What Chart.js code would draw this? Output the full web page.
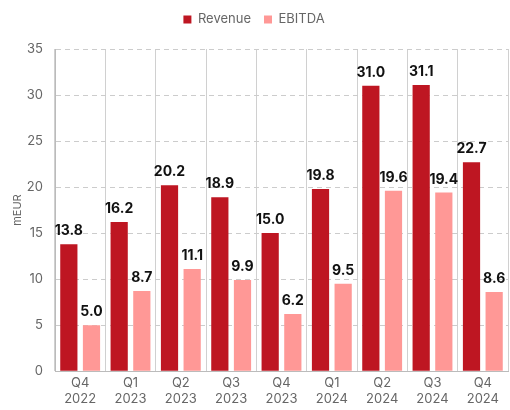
<!DOCTYPE html>
<html>
<head>
<meta charset="utf-8">
<script src="https://cdn.jsdelivr.net/npm/chart.js@4"></script>
<style>
  html, body { margin: 0; padding: 0; background: #fff; }
  #wrap { width: 510px; height: 410px; }
</style>
</head>
<body>
<div id="wrap"><canvas id="c"></canvas></div>
<script>
var quarters = [['Q4', '2022'], ['Q1', '2023'], ['Q2', '2023'], ['Q3', '2023'], ['Q4', '2023'],
                ['Q1', '2024'], ['Q2', '2024'], ['Q3', '2024'], ['Q4', '2024']]
var revenue = [13.8, 16.2, 20.2, 18.9, 15.0, 19.8, 31.0, 31.1, 22.7]
var ebitda = [5.0, 8.7, 11.1, 9.9, 6.2, 9.5, 19.6, 19.4, 8.6]
var yTicks = [0, 5, 10, 15, 20, 25, 30, 35]

var fontName = "Inter, 'Noto Sans', sans-serif"

// draws the value above each bar
var valueLabels = {
	id: 'valueLabels',
	afterDatasetsDraw: function(chart){
		var ctx = chart.ctx
		ctx.save()
		ctx.font = "bold 14px " + fontName
		ctx.fillStyle = '#111'
		ctx.textAlign = 'center'
		ctx.textBaseline = 'bottom'
		chart.data.datasets.forEach(function(ds, i){
			chart.getDatasetMeta(i).data.forEach(function(bar, j){
				ctx.fillText(ds.data[j].toFixed(1), bar.x, bar.y - 6)
			})
		})
		ctx.restore()
	}
}

// extra room under the legend
var legendGap = {
	id: 'legendGap',
	beforeInit: function(chart){
		var fit = chart.legend.fit
		chart.legend.fit = function(){
			fit.bind(chart.legend)()
			this.height += 13
		}
	}
}

var chart = new Chart(document.getElementById('c').getContext('2d'), {
	type: 'bar',
	data: {
		labels: quarters,
		datasets: [{
			label: 'Revenue',
			data: revenue,
			backgroundColor: '#be1622',
			categoryPercentage: 0.9,
			barPercentage: 0.76
		}, {
			label: 'EBITDA',
			data: ebitda,
			backgroundColor: '#ff9896',
			categoryPercentage: 0.9,
			barPercentage: 0.76
		}]
	},
	options: {
		responsive: true,
		maintainAspectRatio: false,
		animation: false,
		layout: { padding: { left: 0, right: 2, top: 0, bottom: -1 } },
		plugins: {
			legend: {
				position: 'top',
				labels: {
					boxWidth: 8,
					boxHeight: 8,
					padding: 13,
					color: '#666',
					font: { family: fontName, size: 13 }
				}
			},
			tooltip: { enabled: false }
		},
		scales: {
			x: {
				grid: { display: true, offset: true, color: '#d0d0d0', drawTicks: false },
				border: { color: '#bbb' },
				ticks: { color: '#666', padding: 3, font: { family: fontName, size: 13, lineHeight: 1.3 } }
			},
			y: {
				min: 0,
				max: 35,
				afterBuildTicks: function(axis){
					axis.ticks = yTicks.map(function(v){ return { value: v } })
				},
				afterFit: function(axis){
					axis.width = 55
				},
				grid: { color: '#cccccc', drawTicks: false },
				border: { color: '#bbb', dash: [5, 4] },
				ticks: { color: '#666', padding: 12, font: { family: fontName, size: 13 } },
				title: { display: true, text: 'mEUR', color: '#666', padding: { top: 11, bottom: 0 }, font: { family: fontName, size: 11 } }
			}
		}
	},
	plugins: [valueLabels, legendGap]
})
</script>
</body>
</html>
